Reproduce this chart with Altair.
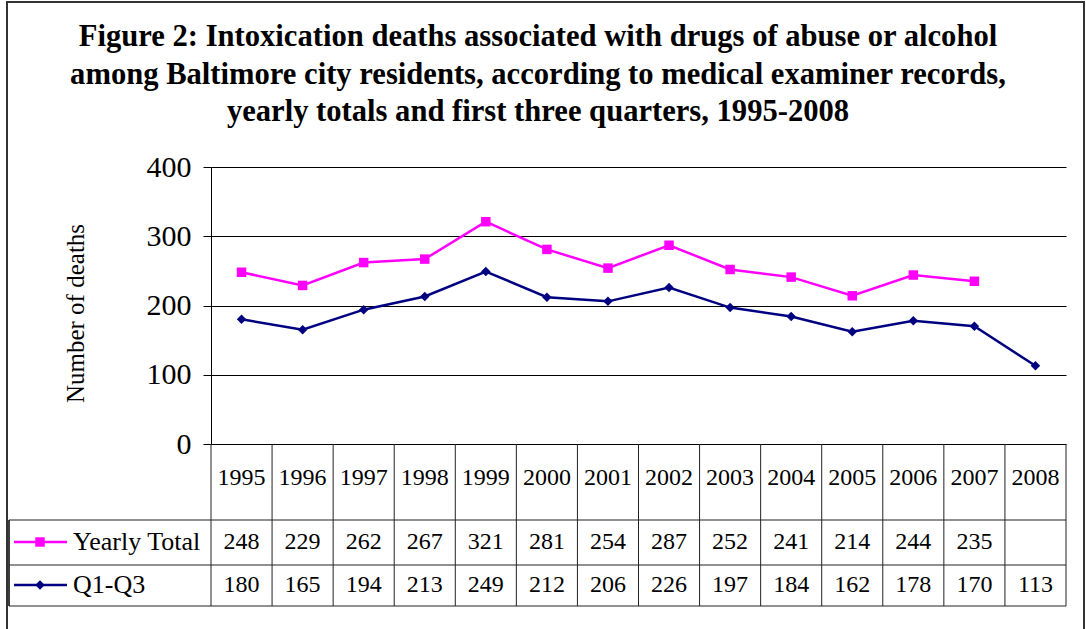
import altair as alt
import pandas as pd

# ---- data ----
years = [1995, 1996, 1997, 1998, 1999, 2000, 2001, 2002, 2003, 2004, 2005, 2006, 2007, 2008]
yearly_total = [248, 229, 262, 267, 321, 281, 254, 287, 252, 241, 214, 244, 235, None]
q1_q3 = [180, 165, 194, 213, 249, 212, 206, 226, 197, 184, 162, 178, 170, 113]
series_names = ["Yearly Total", "Q1-Q3"]
series_colors = ["#FF00FF", "#000080"]
series_shapes = ["square", "diamond"]
y_ticks = [0, 100, 200, 300, 400]

title_lines = [
    "Figure 2: Intoxication deaths associated with drugs of abuse or alcohol",
    "among Baltimore city residents, according to medical examiner records,",
    "yearly totals and first three quarters, 1995-2008",
]

FONT = "Liberation Serif"
W, H = 855, 277

rows = []
for yr, a, b in zip(years, yearly_total, q1_q3):
    if a is not None:
        rows.append({"year": yr, "series": series_names[0], "value": a})
    rows.append({"year": yr, "series": series_names[1], "value": b})
long_df = pd.DataFrame(rows)
long_df["label"] = long_df["value"].astype(int).astype(str)

year_df = pd.DataFrame({"year": years, "label": [str(y) for y in years]})
edge_df = pd.DataFrame({"edge": [y - 0.5 for y in years] + [years[-1] + 0.5]})

x_scale = alt.Scale(domain=[years[0] - 0.5, years[-1] + 0.5], nice=False, zero=False)
color_scale = alt.Scale(domain=series_names, range=series_colors)
shape_scale = alt.Scale(domain=series_names, range=series_shapes)

# row centres of the data table (pixels below the plot top)
ROW_HEADER, ROW_TOTAL, ROW_Q = 311, 375, 418
TABLE_TOP, TABLE_R1, TABLE_R2, TABLE_BOTTOM = H, 353, 398, 439
LABEL_LEFT = -202

base = alt.Chart(long_df)

lines = base.mark_line(strokeWidth=2.5).encode(
    x=alt.X("year:Q", scale=x_scale, axis=None),
    y=alt.Y(
        "value:Q",
        scale=alt.Scale(domain=[0, 400], nice=False),
        axis=alt.Axis(
            values=y_ticks,
            title="Number of deaths",
            titleFont=FONT,
            titleFontSize=25,
            titleFontWeight="normal",
            titleColor="black",
            titleAngle=-90,
            titleAlign="center",
            titleBaseline="middle",
            titleX=-136,
            titleY=146,
            labelFont=FONT,
            labelFontSize=30,
            labelColor="black",
            labelPadding=12,
            tickSize=8,
            tickColor="black",
            domainColor="black",
            grid=True,
            gridColor="black",
            gridWidth=1,
        ),
    ),
    color=alt.Color("series:N", scale=color_scale, legend=None),
    detail="series:N",
)

points = base.mark_point(filled=True, opacity=1, size=90).encode(
    x=alt.X("year:Q", scale=x_scale, axis=None),
    y=alt.Y("value:Q"),
    color=alt.Color("series:N", scale=color_scale, legend=None),
    shape=alt.Shape("series:N", scale=shape_scale, legend=None),
)

# data table grid
col_rules = alt.Chart(edge_df).mark_rule(color="#222", strokeWidth=1).encode(
    x=alt.X("edge:Q", scale=x_scale, axis=None),
    y=alt.value(TABLE_TOP),
    y2=alt.value(TABLE_BOTTOM),
)

hline_df = pd.DataFrame({"ypos": [TABLE_R1, TABLE_R2, TABLE_BOTTOM]})
row_rules = alt.Chart(hline_df).mark_rule(color="#222", strokeWidth=1).encode(
    x=alt.value(LABEL_LEFT),
    x2=alt.value(W),
    y=alt.Y("ypos:Q", scale=None),
)
left_rule = alt.Chart(hline_df).mark_rule(color="#222", strokeWidth=1).encode(
    x=alt.value(LABEL_LEFT),
    y=alt.value(TABLE_R1),
    y2=alt.value(TABLE_BOTTOM),
)

year_text = alt.Chart(year_df).mark_text(
    font=FONT, fontSize=24, baseline="middle", align="center", color="black"
).encode(
    x=alt.X("year:Q", scale=x_scale, axis=None),
    y=alt.value(ROW_HEADER),
    text="label:N",
)

def value_row(name, ypos):
    return alt.Chart(long_df).transform_filter(
        alt.datum.series == name
    ).mark_text(
        font=FONT, fontSize=24, baseline="middle", align="center", color="black"
    ).encode(
        x=alt.X("year:Q", scale=x_scale, axis=None),
        y=alt.value(ypos),
        text="label:N",
    )

key_df = pd.DataFrame({"series": series_names})

def legend_key(idx, ypos):
    name = series_names[idx]
    src = alt.Chart(key_df).transform_filter(alt.datum.series == name)
    seg = src.mark_rule(color=series_colors[idx], strokeWidth=2.5).encode(
        x=alt.value(-197), x2=alt.value(-144), y=alt.value(ypos)
    )
    sym = src.mark_point(
        filled=True, opacity=1, size=90, shape=series_shapes[idx], color=series_colors[idx]
    ).encode(x=alt.value(-171), y=alt.value(ypos))
    lab = src.mark_text(
        font=FONT, fontSize=26, baseline="middle", align="left", color="black"
    ).encode(x=alt.value(-138), y=alt.value(ypos), text="series:N")
    return seg + sym + lab

title_df = pd.DataFrame({"t": ["\n".join(title_lines)]})
title = alt.Chart(title_df).mark_text(
    font=FONT, fontSize=30.6, fontWeight="bold", align="center", baseline="middle",
    lineBreak="\n", lineHeight=37.5, color="black",
).encode(x=alt.value(327), y=alt.value(-130), text="t:N")

frame = alt.Chart(title_df).mark_rect(
    fillOpacity=0, stroke="#333", strokeWidth=2
).encode(
    x=alt.value(-204), x2=alt.value(873), y=alt.value(-165), y2=alt.value(480)
)

chart = alt.layer(
    frame,
    title,
    col_rules,
    row_rules,
    left_rule,
    lines,
    points,
    year_text,
    value_row(series_names[0], ROW_TOTAL),
    value_row(series_names[1], ROW_Q),
    legend_key(0, ROW_TOTAL),
    legend_key(1, ROW_Q),
).properties(
    width=W,
    height=H,
    autosize=alt.AutoSizeParams(type="none"),
    padding={"left": 211, "top": 167, "right": 20, "bottom": 185},
    background="white",
).configure_view(strokeWidth=0)

chart.save("out.html", embed_options={"renderer": "svg", "actions": False})
